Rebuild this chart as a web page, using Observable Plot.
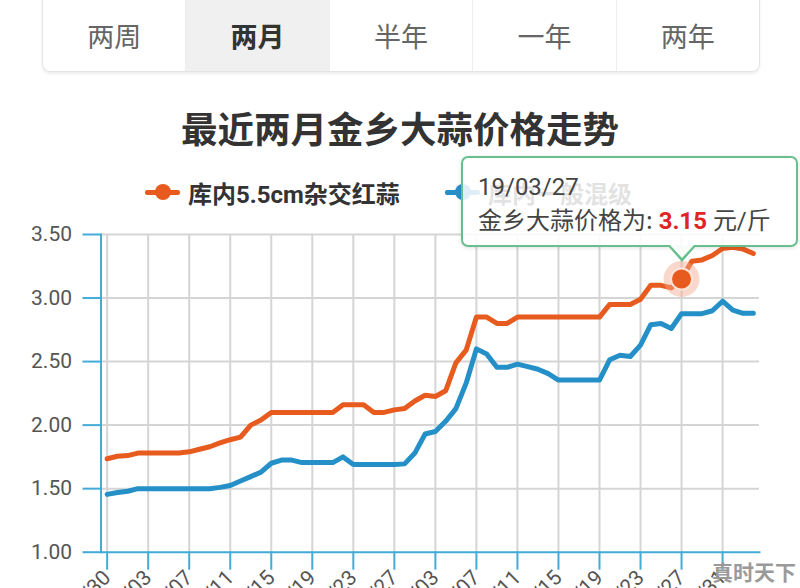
<!DOCTYPE html>
<html>
<head>
<meta charset="utf-8">
<script src="https://cdn.jsdelivr.net/npm/d3@7"></script>
<script src="https://cdn.jsdelivr.net/npm/@observablehq/plot@0.6"></script>
<style>
  html, body { margin: 0; padding: 0; background: #fff; width: 800px; height: 588px; overflow: hidden; position: relative;
    font-family: Roboto, "Noto Sans CJK SC", sans-serif; }
  .tabs { position: absolute; left: 42px; top: -10px; width: 718px; height: 82px; border: 1px solid #e4e4e4; border-top: none;
    border-radius: 0 0 8px 8px; box-shadow: 0 2px 3px rgba(0,0,0,0.07); display: flex; overflow: hidden; box-sizing: border-box; }
  .tab { flex: 1; display: flex; align-items: center; justify-content: center; padding-top: 10px; font-size: 27px; color: #666;
    border-left: 1px solid #eee; font-family: "Noto Sans CJK SC", sans-serif; }
  .tab:first-child { border-left: none; }
  .tab.on { background: #f0f0f0; color: #333; font-weight: bold; }
  .title { position: absolute; left: 0; width: 800px; top: 104px; text-align: center; font-size: 36.5px; font-weight: bold; color: #333;
    font-family: "Noto Sans CJK SC", sans-serif; line-height: 48px; }
  .legend { position: absolute; top: 176px; left: 0; height: 32px; width: 800px; }
  .li { position: absolute; top: 0; height: 32px; display: flex; align-items: center; font-size: 24px; font-weight: bold; color: #333;
    font-family: Roboto, "Noto Sans CJK SC", sans-serif; }
  .mk { position: relative; width: 35px; height: 32px; margin-right: 8px; }
  .mk .ln { position: absolute; left: 0; right: 0; top: 14px; height: 5px; border-radius: 2px; }
  .mk .ci { position: absolute; left: 10px; top: 8px; width: 16px; height: 16px; border-radius: 50%; }
  #chart { position: absolute; left: 0; top: 220px; }
  .tip { position: absolute; left: 461px; top: 156px; width: 337px; height: 91px; box-sizing: border-box; border: 2px solid #67bf8e;
    border-radius: 7px; background: rgba(255,255,255,0.86); box-shadow: 0 1px 4px rgba(0,0,0,0.12); z-index: 5;
    font-family: Roboto, "Noto Sans CJK SC", sans-serif; color: #444; font-size: 24px; padding: 13px 0 0 15px; line-height: 32px; }
  .tip b { color: #e02424; font-weight: bold; }
  .arr1 { position: absolute; left: 205px; bottom: -17px; width: 0; height: 0; border-left: 14px solid transparent;
    border-right: 14px solid transparent; border-top: 16px solid #67bf8e; }
  .arr2 { position: absolute; left: 207px; bottom: -13px; width: 0; height: 0; border-left: 12px solid transparent;
    border-right: 12px solid transparent; border-top: 13px solid rgba(255,255,255,0.95); }
  .wm { position: absolute; left: 712px; top: 556px; font-size: 21px; font-weight: bold; color: #9a9a9a; z-index: 6;
    font-family: "Noto Sans CJK SC", sans-serif; letter-spacing: 0px; }
</style>
</head>
<body>
<div class="tabs" id="tabs"></div>
<div class="title" id="title"></div>
<div class="legend" id="legend"></div>
<div id="chart"></div>
<div class="tip" id="tip"></div>
<div class="wm">真时天下</div>
<script>
// ---- data ----
const tabLabels = ["两周", "两月", "半年", "一年", "两年"];
const activeTab = "两月";
const chartTitle = "最近两月金乡大蒜价格走势";
const seriesNames = ["库内5.5cm杂交红蒜", "库内一般混级"];
const seriesColors = ["#e75b1f", "#2590c8"];
const startDate = "2019-01-30";
const hongsuan = [1.735,1.755,1.76,1.78,1.78,1.78,1.78,1.78,1.79,1.81,
  1.83,1.86,1.885,1.905,2.00,2.04,2.10,2.10,2.10,2.10,
  2.10,2.10,2.10,2.16,2.16,2.16,2.10,2.10,2.12,2.13,
  2.19,2.235,2.225,2.27,2.49,2.59,2.85,2.85,2.80,2.80,
  2.85,2.85,2.85,2.85,2.85,2.85,2.85,2.85,2.85,2.95,
  2.95,2.95,2.99,3.10,3.10,3.08,3.15,3.29,3.30,3.335,
  3.39,3.40,3.385,3.35];
const hunji = [1.455,1.47,1.48,1.50,1.50,1.50,1.50,1.50,1.50,1.50,
  1.50,1.51,1.525,1.56,1.595,1.63,1.70,1.725,1.725,1.705,
  1.705,1.705,1.705,1.75,1.69,1.69,1.69,1.69,1.69,1.695,
  1.78,1.93,1.95,2.03,2.13,2.33,2.60,2.56,2.455,2.455,
  2.48,2.46,2.44,2.405,2.355,2.355,2.355,2.355,2.355,2.515,
  2.55,2.54,2.63,2.79,2.80,2.76,2.877,2.877,2.877,2.90,
  2.975,2.905,2.88,2.88];
const yTicks = [1.0, 1.5, 2.0, 2.5, 3.0, 3.5];
const xTickEvery = 4;
const tipDate = "19/03/27";
const tipLabel = "金乡大蒜价格为";
const tipUnit = "元/斤";

// ---- derived ----
const fmt = d3.utcFormat("%y/%m/%d");
const d0 = new Date(startDate + "T00:00:00Z");
const dates = hongsuan.map((_, i) => fmt(d3.utcDay.offset(d0, i)));
const rows = [];
[hongsuan, hunji].forEach((arr, s) => arr.forEach((v, i) => rows.push({i, date: dates[i], price: v, series: seriesNames[s]})));
const xTicks = dates.map((_, i) => i).filter(i => i % xTickEvery === 0);
const hi = rows.filter(d => d.date === tipDate && d.series === seriesNames[0]);

// ---- html parts ----
document.getElementById("tabs").innerHTML = tabLabels.map(t => `<div class="tab${t === activeTab ? " on" : ""}">${t}</div>`).join("");
document.getElementById("title").textContent = chartTitle;
const legendX = [145, 445];
document.getElementById("legend").innerHTML = seriesNames.map((n, k) =>
  `<div class="li" style="left:${legendX[k]}px"><div class="mk"><div class="ln" style="background:${seriesColors[k]}"></div><div class="ci" style="background:${seriesColors[k]}"></div></div>${n}</div>`).join("");
document.getElementById("tip").innerHTML =
  `<div>${hi[0].date}</div><div>${tipLabel}<span style="font-family:'Noto Sans CJK SC'">:</span> <b>${hi[0].price.toFixed(2)}</b> ${tipUnit}</div><div class="arr1"></div><div class="arr2"></div>`;

// ---- chart ----
const axisBlue = "#42abd7";
const chart = Plot.plot({
  width: 800,
  height: 368,
  marginTop: 14,
  marginBottom: 36.3,
  marginLeft: 100.5,
  marginRight: 41,
  style: {fontFamily: "Roboto, 'Noto Sans CJK SC', sans-serif", fontSize: "21px", color: "#555", background: "transparent", overflow: "visible"},
  x: {domain: [-0.6, dates.length - 1 + 0.6], label: null},
  y: {domain: [1, 3.5], label: null},
  color: {domain: seriesNames, range: seriesColors},
  marks: [
    Plot.gridY(yTicks.slice(1), {stroke: "#d5d5d5", strokeOpacity: 1, strokeWidth: 2}),
    Plot.gridX(xTicks, {stroke: "#d5d5d5", strokeOpacity: 1, strokeWidth: 2}),
    Plot.frame({anchor: "left", stroke: axisBlue, strokeWidth: 2}),
    Plot.frame({anchor: "bottom", stroke: axisBlue, strokeWidth: 2}),
    Plot.axisY(yTicks, {label: null, tickSize: 18, tickPadding: 11, stroke: axisBlue, strokeWidth: 2, fill: "#555", fontSize: 21, tickFormat: d => d.toFixed(2)}),
    Plot.axisX(xTicks, {label: null, tickSize: 18, tickPadding: 4, tickRotate: -45, stroke: axisBlue, strokeWidth: 2, fill: "#555", fontSize: 21, tickFormat: i => dates[i]}),
    Plot.lineY(rows, {x: "i", y: "price", stroke: "series", strokeWidth: 5, strokeLinejoin: "round", strokeLinecap: "round"}),
    Plot.dot(hi, {x: "i", y: "price", r: 18, fill: "#f2a98c", fillOpacity: 0.45}),
    Plot.dot(hi, {x: "i", y: "price", r: 10.5, fill: seriesColors[0], stroke: "#fde3d8", strokeWidth: 2})
  ]
});
document.getElementById("chart").appendChild(chart);
</script>
</body>
</html>
